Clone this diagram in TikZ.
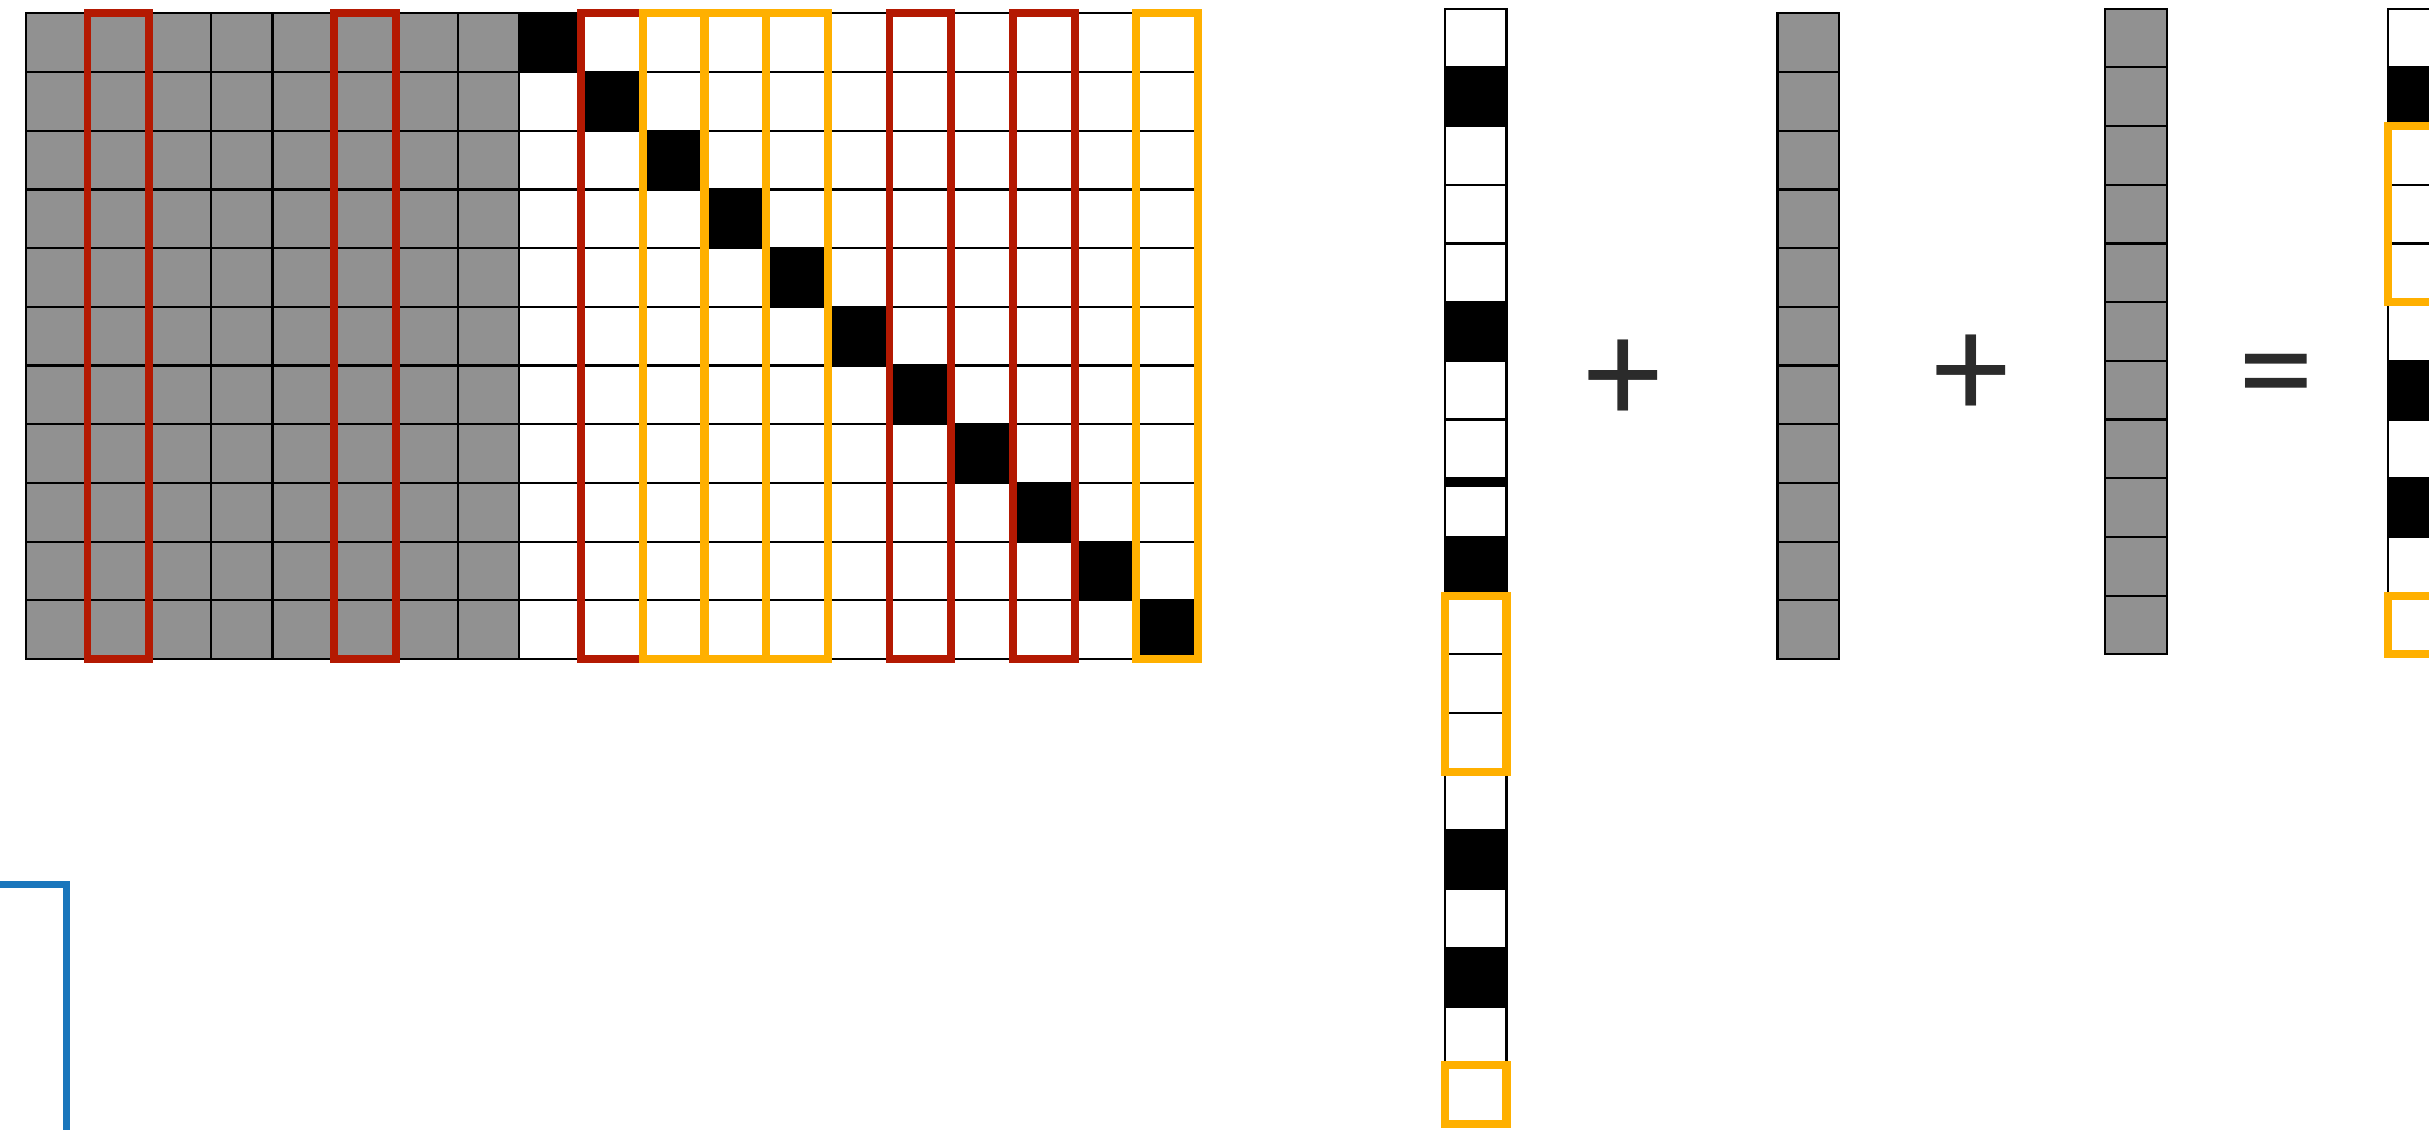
\documentclass[tikz,border=0pt]{standalone}
\usepackage{fontspec}
\newfontfamily\opfont{Carlito}
\definecolor{cellgray}{RGB}{145,145,145}
\definecolor{boxred}{RGB}{180,25,2}
\definecolor{boxorange}{RGB}{255,176,0}
\definecolor{lineblue}{RGB}{26,118,188}
\definecolor{opgray}{RGB}{43,43,43}
\tikzset{
  graycell/.style={draw=black, fill=cellgray, line width=1.1pt},
  whitecell/.style={draw=black, fill=white, line width=1.1pt},
  blackcell/.style={fill=black},
  redbox/.style={draw=boxred, line width=3.9pt},
  orangebox/.style={draw=boxorange, line width=4.1pt},
  blueline/.style={draw=lineblue, line width=3.7pt},
  op/.style={text=opgray, inner sep=0pt, font=\opfont\fontsize{76}{76}\selectfont}
}

\begin{document}
\begin{tikzpicture}[x=30.85pt,y=29.35pt]
		\clip (-0.4165,-8.007) rectangle (38.95,11.227);

		% matrix A, 11 x 19
		\foreach \r in {0,...,10} {
			\foreach \c in {0,...,7}
				\draw[graycell] (\c,\r) rectangle ++(1,1);
			\foreach \c in {8,...,18}
				\draw[whitecell] (\c,\r) rectangle ++(1,1);
		}
		\foreach \i in {0,...,10}
			\fill[blackcell] (8+\i,10-\i) rectangle ++(1,1);
		\foreach \c in {1,5,9,14,16}
			\draw[redbox] (\c,0) rectangle ++(1,11);
		\foreach \c in {10,11,12,18}
			\draw[orangebox] (\c,0) rectangle ++(1,11);

		% vector x, 19 entries
		\begin{scope}[shift={(23,11.08)}]
			\foreach \r in {0,...,18}
				\draw[whitecell] (0,-\r) rectangle ++(1,-1);
			\foreach \r in {1,5,9,14,16}
				\fill[blackcell] (0,-\r) rectangle ++(1,-1);
			\fill[blackcell] (0,-8) rectangle ++(1,-0.15);
			\draw[orangebox] (0,-10) rectangle (1,-13);
			\draw[orangebox] (0,-18) rectangle (1,-19);
		\end{scope}

		\node[op] (plusA) at (25.9,4.73) {+};

		\begin{scope}[shift={(28.39,0)}]
			\foreach \r in {0,...,10}
				\draw[graycell] (0,\r) rectangle ++(1,1);
		\end{scope}

		\node[op] (plusB) at (31.54,4.81) {+};

		\begin{scope}[shift={(33.7,0.08)}]
			\foreach \r in {0,...,10}
				\draw[graycell] (0,\r) rectangle ++(1,1);
		\end{scope}

		\node[op] (eq) at (36.48,4.63) {=};

		% result vector y
		\begin{scope}[shift={(38.29,11.08)}]
			\foreach \r in {0,...,10}
				\draw[whitecell] (0,-\r) rectangle ++(1,-1);
			\foreach \r in {1,6,8}
				\fill[blackcell] (0,-\r) rectangle ++(1,-1);
			\draw[orangebox] (0,-2) rectangle (1,-5);
			\draw[orangebox] (0,-10) rectangle (1,-11);
		\end{scope}

		\coordinate (b0) at (-0.6,-3.845);
		\coordinate (b1) at (0.664,-3.845);
		\coordinate (b2) at (0.664,-8.2);
		\draw[blueline] (b0) -- (b1) -- (b2);
\end{tikzpicture}
\end{document}
